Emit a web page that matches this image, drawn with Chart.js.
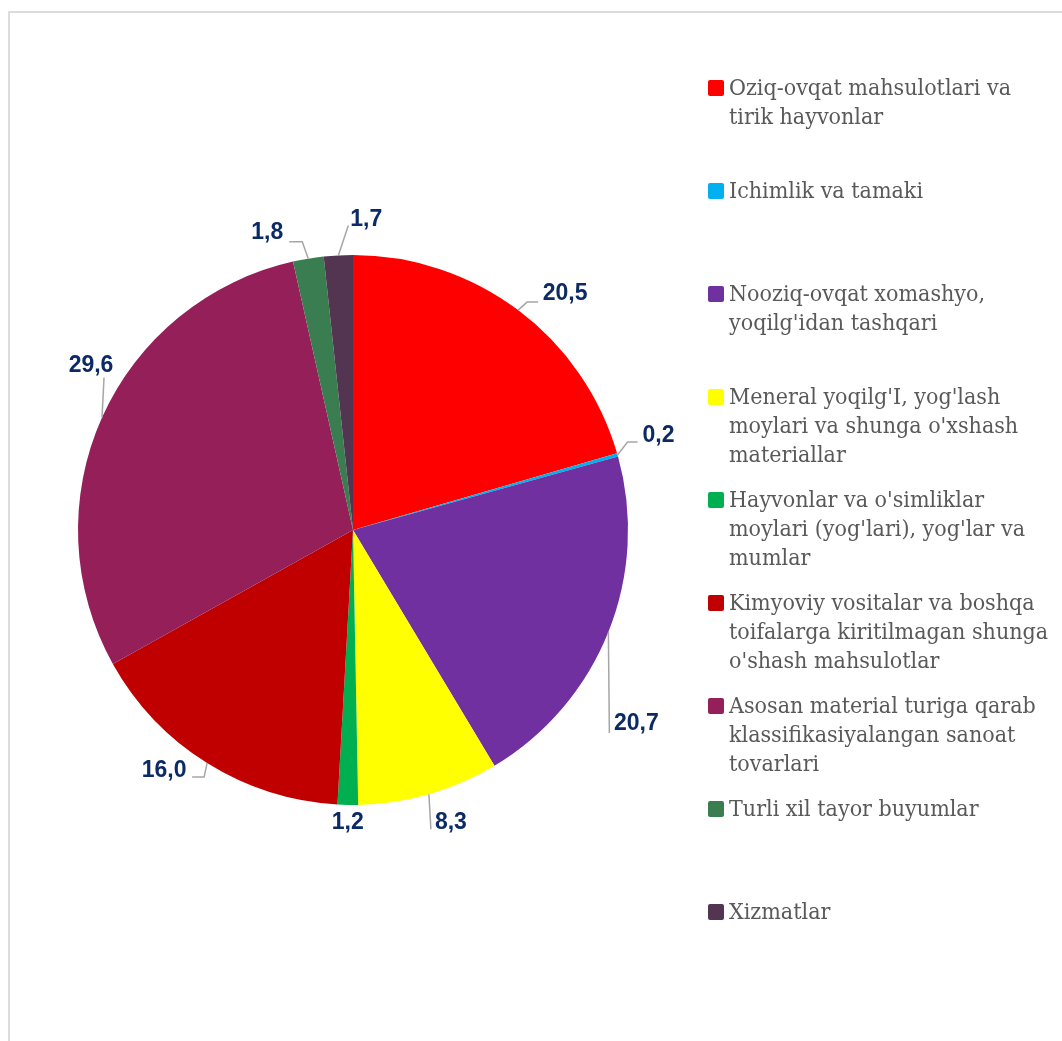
<!DOCTYPE html>
<html>
<head>
<meta charset="utf-8">
<script src="https://cdn.jsdelivr.net/npm/chart.js@4"></script>
<style>
    body { margin: 0; background: #fff; }
    #wrap { position: relative; width: 1062px; height: 1041px; overflow: hidden; }
    #frame { position: absolute; left: 8px; top: 11px; width: 1080px; height: 1060px; border: 2px solid #dcdcdc; box-sizing: border-box; }
    #pie { position: absolute; left: 0; top: 0; }
    #legend { position: absolute; left: 708px; top: 73px; width: 354px; }
    .legend-item { height: 103px; display: flex; align-items: flex-start; }
    .legend-dot { width: 16px; height: 16px; border-radius: 2px; margin-top: 7px; flex: none; }
    .legend-txt { margin-left: 5px; font-family: 'DejaVu Serif Condensed', 'DejaVu Serif', serif; font-stretch: condensed;
                  font-size: 23px; line-height: 29px; color: #595959; white-space: nowrap; }
</style>
</head>
<body>
<div id="wrap">
    <div id="frame"></div>
    <canvas id="pie" width="1062" height="1041"></canvas>
    <div id="legend"></div>
</div>
<script>
// Catégories (lignes de la légende)
const LABELS = [
    ['Oziq-ovqat mahsulotlari va', 'tirik hayvonlar'],
    ['Ichimlik va tamaki'],
    ['Nooziq-ovqat xomashyo,', "yoqilg'idan tashqari"],
    ["Meneral yoqilg'I, yog'lash", "moylari va shunga o'xshash", 'materiallar'],
    ["Hayvonlar va o'simliklar", "moylari (yog'lari), yog'lar va", 'mumlar'],
    ['Kimyoviy vositalar va boshqa', 'toifalarga kiritilmagan shunga', "o'shash mahsulotlar"],
    ['Asosan material turiga qarab', 'klassifikasiyalangan sanoat', 'tovarlari'],
    ['Turli xil tayor buyumlar'],
    ['Xizmatlar']
]

const VALUES = [20.5, 0.2, 20.7, 8.3, 1.2, 16.0, 29.6, 1.8, 1.7]

const COLORS = ['#FF0000', '#00B0F0', '#7030A0', '#FFFF00', '#00B050', '#C00000', '#952059', '#3A7D50', '#533552']

// position des étiquettes par rapport au bord de la part : [dx texte, dy texte, points du trait...]
const LABEL_POS = [
    { t: [47, -16],  line: [[9, -8], [20, -8]] },
    { t: [41, -19],  line: [[10, -13], [20, -13]] },
    { t: [28, 92],   line: [[1, 101]] },
    { t: [22, 28],   line: [[2, 35]] },
    { t: [0, 18],    line: null },
    { t: [-43, 8],   line: [[-3, 14], [-15, 14]] },
    { t: [-11, -52], line: [[2, -40]] },
    { t: [-41, -26], line: [[-6, -17], [-19, -17]] },
    { t: [28, -36],  line: [[10, -30]] }
]

const fmt = v => v.toFixed(1).replace('.', ',')

// -- Étiquettes + traits de rappel --
const labelPlugin = {
    id: 'pieLabels',
    afterDatasetsDraw(chart) {
        const ctx = chart.ctx
        const meta = chart.getDatasetMeta(0)
        meta.data.forEach((arc, i) => {
            const mid = (arc.startAngle + arc.endAngle) / 2
            const ex = arc.x + Math.cos(mid) * arc.outerRadius
            const ey = arc.y + Math.sin(mid) * arc.outerRadius
            const p = LABEL_POS[i]
            ctx.save()
            if (p.line) {
                ctx.strokeStyle = '#A6A6A6'
                ctx.lineWidth = 1.5
                ctx.beginPath()
                ctx.moveTo(ex, ey)
                p.line.forEach(pt => ctx.lineTo(ex + pt[0], ey + pt[1]))
                ctx.stroke()
            }
            ctx.fillStyle = '#0B2A66'
            ctx.font = 'bold 23px "Liberation Sans", Arial, sans-serif'
            ctx.textAlign = 'center'
            ctx.textBaseline = 'middle'
            ctx.fillText(fmt(VALUES[i]), ex + p.t[0], ey + p.t[1])
            ctx.restore()
        })
    }
}

new Chart(document.getElementById('pie'), {
    type: 'pie',
    data: {
        labels: LABELS.map(l => l.join(' ')),
        datasets: [{
            data: VALUES,
            backgroundColor: COLORS,
            borderWidth: 0
        }]
    },
    options: {
        responsive: false,
        animation: false,
        devicePixelRatio: 1,
        layout: { padding: { left: 78, right: 434, top: 255, bottom: 236 } },
        plugins: {
            legend: { display: false },
            tooltip: { enabled: false }
        }
    },
    plugins: [labelPlugin]
})

// -- Légende --
document.getElementById('legend').innerHTML = LABELS.map((l, i) =>
    `<div class="legend-item">
        <span class="legend-dot" style="background:${COLORS[i]}"></span>
        <span class="legend-txt">${l.join('<br>')}</span>
    </div>`
).join('')
</script>
</body>
</html>
